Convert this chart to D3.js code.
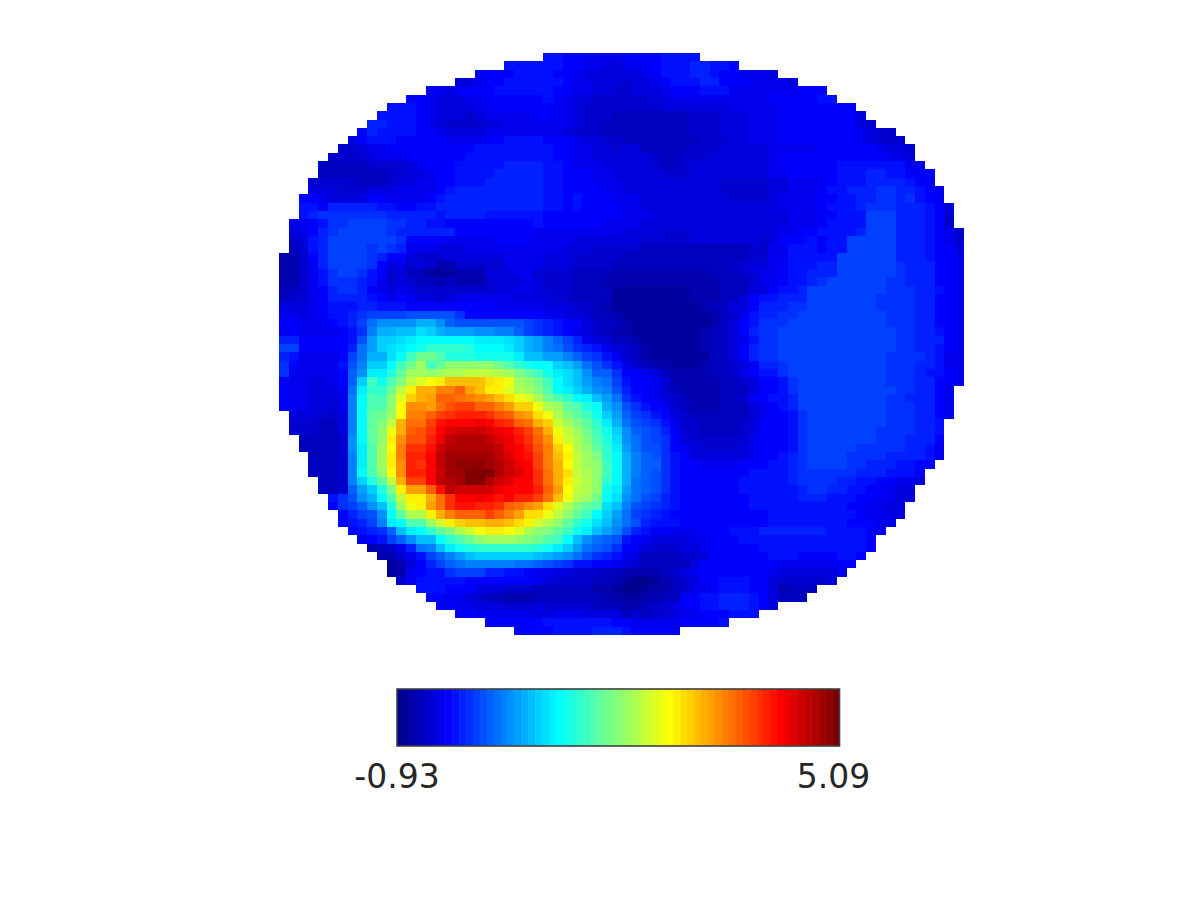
<!DOCTYPE html>
<html lang="en">

<head>
    <meta charset="UTF-8" />
    <title>Topography map</title>
    <script src="https://d3js.org/d3.v7.js"></script>
    <style>
        body { margin: 0; background: #fff; }
    </style>
</head>

<body>
    <svg id="topo"></svg>
</body>

<script>
    // colour level of each cell, 70 columns x 70 rows, "." is outside the head
    var levelChars = "0123456789abcdefghijklmnopqrstuvwxyzABCDEFGHIJKLMNOPQRSTUVWXYZ+/";
    var rows = [
        ".......... .......... .......887 7666677778 888....... .......... ..........",
        ".......... .......... ...8888887 7665566778 8899887... .......... ..........",
        ".......... .......... 6777888877 6555555678 8899877666 5......... ..........",
        ".......... ........55 6778888887 6655545567 8889977766 665....... ..........",
        ".......... .....66577 7788888877 6655445556 7778886666 666777.... ..........",
        ".......... ...7765556 6777777876 5544444455 6666666666 7777788... ..........",
        ".......... .888765555 6677777766 5444444445 5555556666 677777777. ..........",
        ".......... 8888765554 5666667766 5444333333 3344455566 6777777775 ..........",
        ".........9 9888765444 4556666666 5443333333 3344455566 6777777775 4.........",
        "........79 8888776555 5666666665 4443333333 3344455566 6777777776 544.......",
        ".......578 8877777666 6778888777 6554433333 3334445566 6777777776 5444......",
        "......4456 6777777777 8888888877 6655455333 3344455555 6666677777 76554.....",
        ".....44445 6667777778 8888888877 6655555543 3444555555 6777777777 77665.....",
        "....333334 4445677788 8889999887 6665555543 3455555555 6777777888 888866....",
        "....333333 3445567788 8899999887 7766555554 4455555555 6677777888 9988777...",
        "...4444433 3455667788 8999999887 7766655555 5555544444 5566667888 9999876...",
        "...5554445 5566667899 9999999887 7776655555 5555544444 5566678899 9aa99876..",
        "..77655557 7666678999 9999999887 8777666555 5555554444 5666677889 9aa9a876..",
        "..88799999 8877889999 9999999887 8777766555 5555555555 5666678889 aaa999875.",
        "..89aaaaaa a999998999 9888888777 7777766655 5555555555 5566667888 bbb999874.",
        ".6678aabbb baa9988777 7777778777 7776666555 5555555555 5566678888 bbb999874.",
        ".5679abbbb ba99999977 7777776666 6666655554 4455555555 5667788889 bbb9998764",
        ".4589bbbbb bba7777666 6677776666 5555555444 4455555554 57778788bb bbb9998764",
        ".3489bbbba ba96665556 6666666665 5544444333 3333333344 66888788bb bbb9998775",
        "22479bbbba 9775444555 5556666555 4444433333 3333333344 6688888bbb bbb9998776",
        "22469bbbba 7564542244 4446666555 4444333333 3333334455 6788899bbb bbba999776",
        "22468abba8 7453311122 2555664444 3333222222 2222333456 6788999bbb bbba999776",
        "22468aaa98 6454332322 2455565444 3332222222 2222233346 67889abbbb bbaa999776",
        "334679aa97 6565444444 4455665444 3333111111 1122233355 7889bbbbbb bbaaa99876",
        "3446799998 7676554566 6666555544 3333111111 1122233578 8999bbbbbb baaaa99776",
        "5556788899 8887777777 7766666555 4432111111 1112335579 99aabbbbbb baaaa99776",
        "66567889ab bbbccccca7 7777777665 5433211111 1111234689 9aabbbbbbb bbaaa99776",
        "77666789be ggggiigdcc cccccba987 7543321111 111123578a aabbbbbbbb bbaaa99776",
        "67666678af iijjlkihhh ggffdba987 6543221111 111233579a abbbbbbbbb bbbaa99876",
        "99777778ch kklmnnnnnn mmmlkihfdb 9654332111 111233568a abbbbbbbbb bbbaa99976",
        "bb777779eh klmnoqqqqp nnnmkihfec a986543211 111233579a abbbbbbbbb bbbaa99876",
        "9866667bei ilnruusppp oooomjjhhf dba8643211 111133579a abbbbbbbbb bbaaaa9866",
        "a766668cfk knruxrtwww wwusqonnkj heca864322 1112334579 9abbbbbbbb bbaaa99866",
        "a666667dgm mptxxwxyyz zzyxvtroml jgdda77653 2222334678 8abbbbbbbb bbaaa98876",
        "7665567dkr osvzBDEHHH HFECxwurnl jhfeb87765 2222233457 78abbbbbbb bbaaa99776",
        "7665556emq quzEIILLNJ HEEByxvsnm kigfc97764 3222233357 78abbbbbbb bbbaa9976.",
        "7665556fns rwBGIJNNML KJHFCByusq nmjhea8765 4322233477 889bbbbbbb bbaa99976.",
        "7665546fns swDKKJMOPP NNLJGGCyxt spnigca876 4322233356 789bbbbbbb bbaaa9976.",
        ".555445fnt uxDLLNPQRR RQONKJFCyv trokhdba87 5433333346 778abbbbbb bbaaa9976.",
        ".444335fnt vzIMMPSTTT UTRQNMIGAx vtqmiecba8 6443333457 778abbbbbb bbaaa998..",
        ".444335fnt wCINOQTVWW WVUTRPMICz xurokgdcb9 7443333457 778abbbbbb baaaa998..",
        "..33334gnt wEKOORUXYY YXVUSQNKEA yvsplgecba 7544444467 778abbbbbb baaa9997..",
        "..33334gms xDLQQSWYYY YYXUTROLGD ywtqmhecca 7654444567 778abbbbba aaaa9986..",
        "...3334fms xELRRTXZZZ ZZXVTSPLHE zxvqnifdca 8755555567 789abbbbaa aa999986..",
        "...3334fms xEKRQTXZ++ +ZYWUTPLID zxwrnifdda 8776666777 889abbbbaa 9998877...",
        "...3334fns wDKRRTWZZ/ //YWVTQMIF zywrnifdca 8777777788 889aaaaaa9 998887....",
        "....334fkp tzIPPTXYZ/ /YWVTTQMIE Aywqniedca 8777777888 889aaaa998 877665....",
        "....334dhk pvEJJNSXWW WWUTTTRNJD zywomhedca 8777777888 8889aa9988 77655.....",
        ".....8acgi nszEEIMQTT UTSTRRPMHC yxunlgecb9 8777777788 8889998887 76655.....",
        ".....7abdg jpxCEJMQSS RRQNMKJFBy vtsljfcba9 8777777788 8888888877 6655......",
        "......79bc gntyyEILNN NPNLJFFCzw trnkheba98 7777777777 8888888887 6655......",
        "......789b fmnssxAEGH HIIHFEAywt qoljgec988 8777777777 8888888877 766.......",
        ".......789 adjmnqtvyA DEEDBywvtr omjhfc9877 6667778889 9999998888 76........",
        "........67 8bdgjjnqsu wxxxwvusrn jgedc87655 5566777888 8888888888 7.........",
        ".........2 3469efjmop qqqqqqpomk hedca76544 4556777778 8888888888 7.........",
        ".......... 22468bdfhj kkkkkkjihg eca9865333 3445777777 8887777887 ..........",
        ".......... .12579bdef ffffeedcba 8877654333 3357777777 766666677. ..........",
        ".......... .126788abb b998876655 4443322223 4567777777 65555556.. ..........",
        ".......... ..46888887 7777776544 4433210012 3457788877 5444445... ..........",
        ".......... ....888777 5554443333 3322100122 3466788877 52333..... ..........",
        ".......... .....77665 4332223333 3332211223 3778899987 5333...... ..........",
        ".......... ......7766 5554445444 4433322344 5778899987 5......... ..........",
        ".......... ........77 6666665566 6555534344 566777888. .......... ..........",
        ".......... .......... .777777888 8888776666 677778.... .......... ..........",
        ".......... .......... ....777788 8899987777 7......... .......... .........."
    ];
    var valueRange = [-0.93, 5.09];
    var tickLabels = ["-0.93", "5.09"];

    var width = 1200;
    var height = 900;

    var svg = d3.select("#topo")
        .attr("width", width)
        .attr("height", height)
        .style("display", "block");

    // same 64 colours as the colour bar
    var jet = d3.scaleLinear()
        .domain([0, 7, 23, 39, 55, 63])
        .range(["#00008f", "#0000ff", "#00ffff", "#ffff00", "#ff0000", "#800000"]);
    var nLevels = levelChars.length;
    var colors = d3.range(nLevels).map((i) => jet(i));

    var levelToValue = d3.scaleLinear().domain([0, nLevels - 1]).range(valueRange);
    var color = d3.scaleQuantize().domain(valueRange).range(colors);

    var cells = [];
    rows.forEach((row, r) => {
        var chars = row.split(" ").join("");
        if (chars.length != 70) throw new Error("row " + r + " has " + chars.length);
        chars.split("").forEach((ch, c) => {
            if (ch != ".") cells.push({ r: r, c: c, value: levelToValue(levelChars.indexOf(ch)) });
        });
    });

    var x = d3.scaleBand().domain(d3.range(70)).range([279, 964]);
    var y = d3.scaleBand().domain(d3.range(rows.length)).range([53, 635]);

    svg.append("g")
        .selectAll("rect")
        .data(cells)
        .enter()
        .append("rect")
        .attr("x", (d) => x(d.c))
        .attr("y", (d) => y(d.r))
        .attr("width", x.bandwidth())
        .attr("height", y.bandwidth())
        .attr("fill", (d) => color(d.value))
        .attr("shape-rendering", "crispEdges");

    // colour bar
    var barX = d3.scaleBand().domain(d3.range(nLevels)).range([397, 839]);
    var bar = svg.append("g");
    bar.selectAll("rect")
        .data(colors)
        .enter()
        .append("rect")
        .attr("x", (d, i) => barX(i))
        .attr("y", 689)
        .attr("width", barX.bandwidth() + 0.5)
        .attr("height", 57)
        .attr("fill", (d) => d);
    bar.append("rect")
        .attr("x", 397)
        .attr("y", 689)
        .attr("width", 442.5)
        .attr("height", 57)
        .attr("fill", "none")
        .attr("stroke", "#404040")
        .attr("stroke-width", 1.6);

    // the right label sits a little inside the bar end in the original
    var tickX = d3.scaleLinear().domain(valueRange).range([397, 833.5]);
    svg.append("g")
        .selectAll("text")
        .data(tickLabels)
        .enter()
        .append("text")
        .attr("x", (d) => tickX(+d))
        .attr("y", 788)
        .attr("text-anchor", "middle")
        .attr("font-family", "DejaVu Sans")
        .attr("font-size", 33)
        .attr("fill", "#262626")
        .text((d) => d);
</script>

</html>
